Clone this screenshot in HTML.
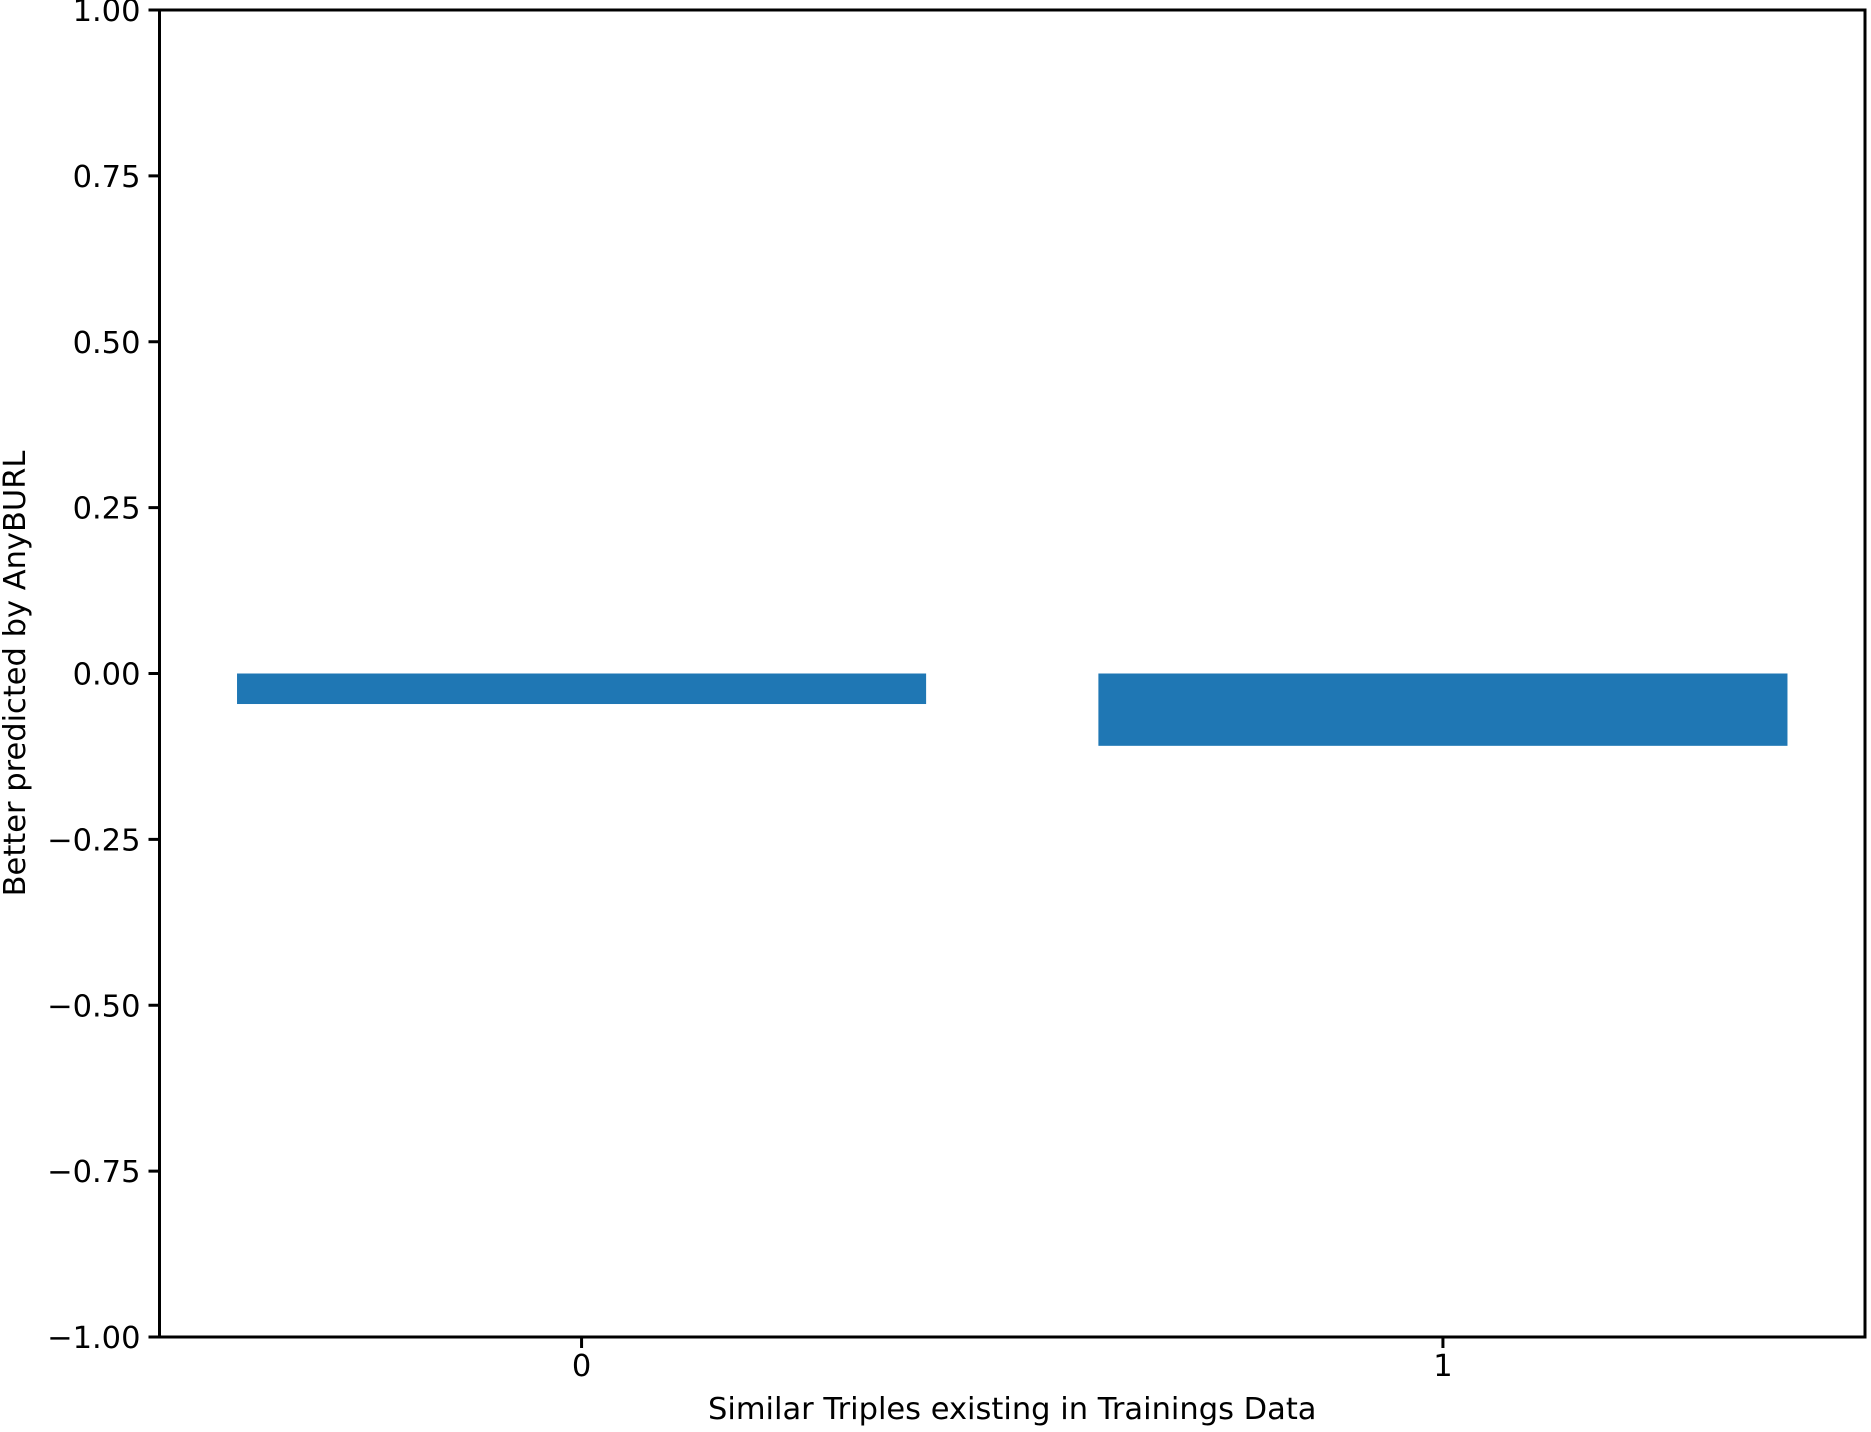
<!DOCTYPE html>
<html><head><meta charset="utf-8"><style>
html,body{margin:0;padding:0;background:#fff;}
svg{display:block;font-family:"DejaVu Sans","Liberation Sans",sans-serif;}
</style></head><body>
<svg id="chart" width="1871" height="1432" viewBox="0 0 1871 1432"></svg>
<script>
const categories = ["0", "1"];
const values = [-0.046, -0.109];
const yTicks = [1.00, 0.75, 0.50, 0.25, 0.00, -0.25, -0.50, -0.75, -1.00];
const yTickLabels = ["1.00", "0.75", "0.50", "0.25", "0.00", "\u22120.25", "\u22120.50", "\u22120.75", "\u22121.00"];

const L = 159.5, R = 1865, T = 10, B = 1337;
const xMin = -0.49, xMax = 1.49, yMin = -1, yMax = 1;
function xs(v){ return L + (v - xMin) / (xMax - xMin) * (R - L); }
function ys(v){ return B - (v - yMin) / (yMax - yMin) * (B - T); }
const NS = "http://www.w3.org/2000/svg";
const svg = document.getElementById('chart');
function mk(tag, attrs, parent){ const e = document.createElementNS(NS, tag); for (const k in attrs) e.setAttribute(k, attrs[k]); (parent||svg).appendChild(e); return e; }

values.forEach((v, i) => {
  const x0 = xs(i - 0.4), x1 = xs(i + 0.4);
  const y0 = ys(Math.max(0, v)), y1 = ys(Math.min(0, v));
  const r = mk('rect', {x: x0, y: y0, width: x1 - x0, height: y1 - y0, fill: '#1f77b4'});
  
  
});

const frame = mk('rect', {x: L, y: T, width: R - L, height: B - T, fill: 'none', stroke: '#000', 'stroke-width': 3});



yTicks.forEach((v, i) => {
  const y = ys(v);
  const t = mk('line', {x1: L - 11, x2: L, y1: y, y2: y, stroke: '#000', 'stroke-width': 3});
  
  
  const tx = mk('text', {x: L - 19, y: y + 11, 'text-anchor': 'end', 'font-size': 30.5, fill: '#000'});
  tx.textContent = yTickLabels[i];
  
  
});

categories.forEach((c, i) => {
  const x = xs(i);
  const t = mk('line', {x1: x, x2: x, y1: B, y2: B + 11, stroke: '#000', 'stroke-width': 3});
  
  
  const tx = mk('text', {x: x, y: B + 39, 'text-anchor': 'middle', 'font-size': 30.5, fill: '#000'});
  tx.textContent = c;
  
  
});

const xl = mk('text', {x: (L + R) / 2, y: 1419, 'text-anchor': 'middle', 'font-size': 30.5, fill: '#000'});
xl.textContent = 'Similar Triples existing in Trainings Data';



const yl = mk('text', {x: 0, y: 0, 'text-anchor': 'middle', 'font-size': 30.5, fill: '#000', transform: 'translate(25,' + ((T + B) / 2) + ') rotate(-90)'});
yl.textContent = 'Better predicted by AnyBURL';


</script>
</body></html>
